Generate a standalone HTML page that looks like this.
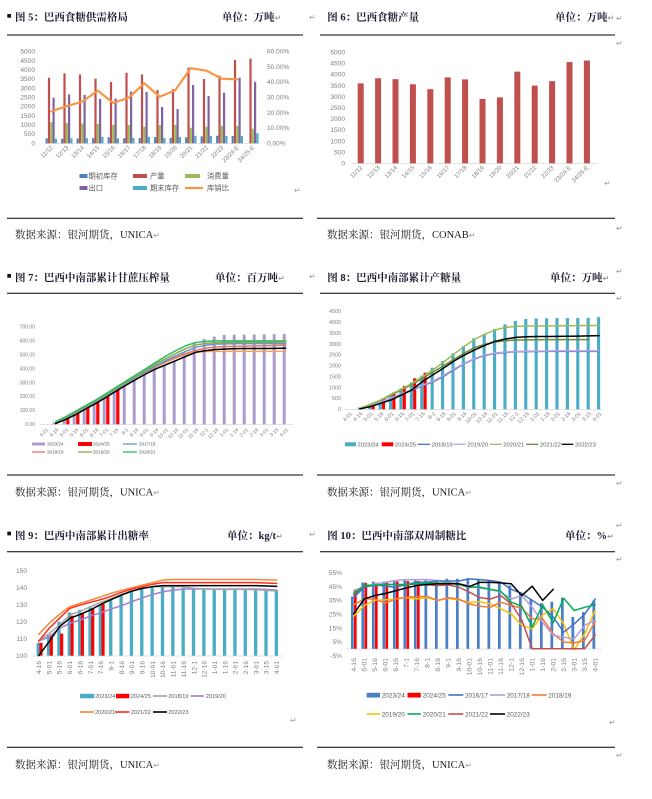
<!DOCTYPE html>
<html><head><meta charset="utf-8"><style>
html,body{margin:0;padding:0;background:#fff;}
svg{display:block;}
.t{font-family:"Liberation Serif","Noto Serif CJK SC",serif;font-weight:700;font-size:10.5px;fill:#1c1c30;}
.s{font-family:"Liberation Serif","Noto Serif CJK SC",serif;font-size:10.5px;fill:#222;}
.a{font-family:"Liberation Sans",sans-serif;fill:#7f7f7f;}
.lg{font-family:"Liberation Sans","Noto Sans CJK SC",sans-serif;fill:#595959;}
.r{font-family:"DejaVu Sans",sans-serif;font-size:8px;fill:#9a9a9a;}
.ln{fill:none;stroke-width:1.5;vector-effect:non-scaling-stroke;stroke-linejoin:round;stroke-linecap:round;}
</style></head><body>
<svg width="652" height="799" viewBox="0 0 652 799" xmlns="http://www.w3.org/2000/svg">
<rect width="652" height="799" fill="#fff"/>

<!-- ============ CHART 5 ============ -->
<rect x="7.3" y="14" width="3.7" height="3.7" fill="#111"/>
<text class="t" x="15" y="20.5">图 5：巴西食糖供需格局</text>
<text class="t" x="222" y="20.5">单位：万吨<tspan class="r">↵</tspan></text>
<text class="r" x="309" y="20">↵</text>
<line x1="7" y1="35" x2="303" y2="35" stroke="#000" stroke-width="1"/>
<g class="a" font-size="6.6" text-anchor="end">
<text x="35" y="145.3">0</text><text x="35" y="136.1">500</text><text x="35" y="127">1000</text><text x="35" y="117.8">1500</text><text x="35" y="108.7">2000</text><text x="35" y="99.5">2500</text><text x="35" y="90.3">3000</text><text x="35" y="81.2">3500</text><text x="35" y="72">4000</text><text x="35" y="62.9">4500</text><text x="35" y="53.7">5000</text>
</g>
<g class="a" font-size="6.6">
<text x="267" y="145.3">0.00%</text><text x="267" y="130">10.00%</text><text x="267" y="114.8">20.00%</text><text x="267" y="99.5">30.00%</text><text x="267" y="84.2">40.00%</text><text x="267" y="69">50.00%</text><text x="267" y="53.7">60.00%</text>
</g>
<line x1="45" y1="143.5" x2="260" y2="143.5" stroke="#d9d9d9" stroke-width="0.8"/>
<g transform="translate(51.3,143.3) scale(15.5,-0.01832)">
 <g transform="translate(-0.368,0)" fill="#4F81BD">
  <rect x="0" y="0" width="0.142" height="270"/><rect x="1" y="0" width="0.142" height="250"/><rect x="2" y="0" width="0.142" height="270"/><rect x="3" y="0" width="0.142" height="280"/><rect x="4" y="0" width="0.142" height="330"/><rect x="5" y="0" width="0.142" height="270"/><rect x="6" y="0" width="0.142" height="290"/><rect x="7" y="0" width="0.142" height="340"/><rect x="8" y="0" width="0.142" height="300"/><rect x="9" y="0" width="0.142" height="330"/><rect x="10" y="0" width="0.142" height="380"/><rect x="11" y="0" width="0.142" height="410"/><rect x="12" y="0" width="0.142" height="400"/>
 </g>
 <g transform="translate(-0.219,0)" fill="#C0504D">
  <rect x="0" y="0" width="0.142" height="3580"/><rect x="1" y="0" width="0.142" height="3820"/><rect x="2" y="0" width="0.142" height="3760"/><rect x="3" y="0" width="0.142" height="3530"/><rect x="4" y="0" width="0.142" height="3350"/><rect x="5" y="0" width="0.142" height="3850"/><rect x="6" y="0" width="0.142" height="3760"/><rect x="7" y="0" width="0.142" height="2910"/><rect x="8" y="0" width="0.142" height="2960"/><rect x="9" y="0" width="0.142" height="4130"/><rect x="10" y="0" width="0.142" height="3510"/><rect x="11" y="0" width="0.142" height="3690"/><rect x="12" y="0" width="0.142" height="4550"/><rect x="13" y="0" width="0.142" height="4620"/>
 </g>
 <g transform="translate(-0.071,0)" fill="#9BBB59">
  <rect x="0" y="0" width="0.142" height="1150"/><rect x="1" y="0" width="0.142" height="1100"/><rect x="2" y="0" width="0.142" height="1080"/><rect x="3" y="0" width="0.142" height="1060"/><rect x="4" y="0" width="0.142" height="1000"/><rect x="5" y="0" width="0.142" height="1000"/><rect x="6" y="0" width="0.142" height="900"/><rect x="7" y="0" width="0.142" height="1000"/><rect x="8" y="0" width="0.142" height="1000"/><rect x="9" y="0" width="0.142" height="850"/><rect x="10" y="0" width="0.142" height="900"/><rect x="11" y="0" width="0.142" height="950"/><rect x="12" y="0" width="0.142" height="950"/><rect x="13" y="0" width="0.142" height="800"/>
 </g>
 <g transform="translate(0.077,0)" fill="#8064A2">
  <rect x="0" y="0" width="0.142" height="2490"/><rect x="1" y="0" width="0.142" height="2670"/><rect x="2" y="0" width="0.142" height="2640"/><rect x="3" y="0" width="0.142" height="2420"/><rect x="4" y="0" width="0.142" height="2440"/><rect x="5" y="0" width="0.142" height="2820"/><rect x="6" y="0" width="0.142" height="2800"/><rect x="7" y="0" width="0.142" height="1980"/><rect x="8" y="0" width="0.142" height="1870"/><rect x="9" y="0" width="0.142" height="3180"/><rect x="10" y="0" width="0.142" height="2580"/><rect x="11" y="0" width="0.142" height="2760"/><rect x="12" y="0" width="0.142" height="3580"/><rect x="13" y="0" width="0.142" height="3360"/>
 </g>
 <g transform="translate(0.226,0)" fill="#4BACC6">
  <rect x="0" y="0" width="0.142" height="250"/><rect x="1" y="0" width="0.142" height="270"/><rect x="2" y="0" width="0.142" height="280"/><rect x="3" y="0" width="0.142" height="350"/><rect x="4" y="0" width="0.142" height="270"/><rect x="5" y="0" width="0.142" height="290"/><rect x="6" y="0" width="0.142" height="350"/><rect x="7" y="0" width="0.142" height="290"/><rect x="8" y="0" width="0.142" height="340"/><rect x="9" y="0" width="0.142" height="410"/><rect x="10" y="0" width="0.142" height="400"/><rect x="11" y="0" width="0.142" height="400"/><rect x="12" y="0" width="0.142" height="400"/><rect x="13" y="0" width="0.142" height="550"/>
 </g>
</g>
<g transform="translate(51.3,143.3) scale(15.5,-1.5267)">
 <polyline class="ln" style="stroke-width:2.2" stroke="#F79646" points="0,20.9 1,24.4 2,27.3 3,34.5 4,26.4 5,29.9 6,39.3 7,30.5 8,34.8 9,49.2 10,47.6 11,42.3 12,41.9"/>
</g>
<g class="a" font-size="6" text-anchor="end">
<text transform="translate(53.3,148) rotate(-45)">11/12</text>
<text transform="translate(68.8,148) rotate(-45)">12/13</text>
<text transform="translate(84.3,148) rotate(-45)">13/14</text>
<text transform="translate(99.8,148) rotate(-45)">14/15</text>
<text transform="translate(115.3,148) rotate(-45)">15/16</text>
<text transform="translate(130.8,148) rotate(-45)">16/17</text>
<text transform="translate(146.3,148) rotate(-45)">17/18</text>
<text transform="translate(161.8,148) rotate(-45)">18/19</text>
<text transform="translate(177.3,148) rotate(-45)">19/20</text>
<text transform="translate(192.8,148) rotate(-45)">20/21</text>
<text transform="translate(208.3,148) rotate(-45)">21/22</text>
<text transform="translate(223.8,148) rotate(-45)">22/23</text>
<text transform="translate(239.3,148) rotate(-45)">23/24-E</text>
<text transform="translate(254.8,148) rotate(-45)">24/25-E</text>
</g>
<g class="lg" font-size="7.3">
<rect x="79.5" y="174" width="8" height="4" fill="#4F81BD"/><text x="88.5" y="178.6">期初库存</text>
<rect x="133" y="174" width="14" height="4" fill="#C0504D"/><text x="150" y="178.6">产量</text>
<rect x="185" y="174" width="15" height="4" fill="#9BBB59"/><text x="207" y="178.6">消费量</text>
<rect x="79.5" y="186" width="8" height="4" fill="#8064A2"/><text x="88.5" y="190.6">出口</text>
<rect x="133" y="186" width="14" height="4" fill="#4BACC6"/><text x="150" y="190.6">期末库存</text>
<line x1="185" y1="188" x2="203" y2="188" stroke="#F79646" stroke-width="2.2"/><text x="207" y="190.6">库销比</text>
</g>
<text class="r" x="294" y="193">↵</text>
<line x1="7" y1="218.3" x2="303" y2="218.3" stroke="#000" stroke-width="1"/>
<text class="s" x="15" y="238">数据来源：银河期货，UNICA<tspan class="r">↵</tspan></text>

<!-- ============ CHART 6 ============ -->
<text class="t" x="327.3" y="20.5">图 6：巴西食糖产量</text>
<text class="t" x="555" y="20.5">单位：万吨<tspan class="r">↵</tspan></text>
<text class="r" x="616" y="21">↵</text>
<line x1="320" y1="35" x2="615" y2="35" stroke="#000" stroke-width="1"/>
<text class="r" x="616" y="46">↵</text>
<g class="a" font-size="6.6" text-anchor="end">
<text x="345" y="165.5">0</text><text x="345" y="154.4">500</text><text x="345" y="143.3">1000</text><text x="345" y="132.2">1500</text><text x="345" y="121.1">2000</text><text x="345" y="110">2500</text><text x="345" y="98.9">3000</text><text x="345" y="87.8">3500</text><text x="345" y="76.7">4000</text><text x="345" y="65.6">4500</text><text x="345" y="54.5">5000</text>
</g>
<line x1="352" y1="163.5" x2="597" y2="163.5" stroke="#d9d9d9" stroke-width="0.8"/>
<g transform="translate(360.7,163.3) scale(17.4,-0.0222)" fill="#C0504D">
 <g transform="translate(-0.172,0)">
 <rect x="0" y="0" width="0.345" height="3600"/><rect x="1" y="0" width="0.345" height="3830"/><rect x="2" y="0" width="0.345" height="3790"/><rect x="3" y="0" width="0.345" height="3560"/><rect x="4" y="0" width="0.345" height="3340"/><rect x="5" y="0" width="0.345" height="3870"/><rect x="6" y="0" width="0.345" height="3780"/><rect x="7" y="0" width="0.345" height="2900"/><rect x="8" y="0" width="0.345" height="2970"/><rect x="9" y="0" width="0.345" height="4130"/><rect x="10" y="0" width="0.345" height="3500"/><rect x="11" y="0" width="0.345" height="3700"/><rect x="12" y="0" width="0.345" height="4560"/><rect x="13" y="0" width="0.345" height="4630"/>
 </g>
</g>
<g class="a" font-size="6" text-anchor="end">
<text transform="translate(362.7,168) rotate(-45)">11/12</text>
<text transform="translate(380.1,168) rotate(-45)">12/13</text>
<text transform="translate(397.5,168) rotate(-45)">13/14</text>
<text transform="translate(414.9,168) rotate(-45)">14/15</text>
<text transform="translate(432.3,168) rotate(-45)">15/16</text>
<text transform="translate(449.7,168) rotate(-45)">16/17</text>
<text transform="translate(467.1,168) rotate(-45)">17/18</text>
<text transform="translate(484.5,168) rotate(-45)">18/19</text>
<text transform="translate(501.9,168) rotate(-45)">19/20</text>
<text transform="translate(519.3,168) rotate(-45)">20/21</text>
<text transform="translate(536.7,168) rotate(-45)">21/22</text>
<text transform="translate(554.1,168) rotate(-45)">22/23</text>
<text transform="translate(571.5,168) rotate(-45)">23/24-E</text>
<text transform="translate(588.9,168) rotate(-45)">24/25-E</text>
</g>
<text class="r" x="604" y="186">↵</text>
<line x1="317" y1="218.3" x2="615" y2="218.3" stroke="#000" stroke-width="1"/>
<text class="s" x="327" y="238">数据来源：银河期货，CONAB<tspan class="r">↵</tspan></text>
<text class="r" x="616" y="231">↵</text>

<!-- ============ CHART 7 ============ -->
<rect x="7.3" y="274" width="3.7" height="3.7" fill="#111"/>
<text class="t" x="15" y="281">图 7：巴西中南部累计甘蔗压榨量</text>
<text class="t" x="215" y="281">单位：百万吨<tspan class="r">↵</tspan></text>
<text class="r" x="309" y="279">↵</text>
<line x1="7" y1="293.3" x2="303" y2="293.3" stroke="#000" stroke-width="1"/>
<g class="a" font-size="5" text-anchor="end">
<text x="35" y="426">0.00</text><text x="35" y="412.1">100.00</text><text x="35" y="398.2">200.00</text><text x="35" y="384.3">300.00</text><text x="35" y="370.4">400.00</text><text x="35" y="356.5">500.00</text><text x="35" y="342.6">600.00</text><text x="35" y="328.7">700.00</text>
</g>
<line x1="40" y1="424.5" x2="293" y2="424.5" stroke="#d9d9d9" stroke-width="0.8"/>
<g transform="translate(45.7,424.3) scale(10,-0.139)">
 <g transform="translate(-0.3,0)" fill="#AC9BCD">
 <rect x="1" y="0" width="0.3" height="15"/><rect x="2" y="0" width="0.3" height="48"/><rect x="3" y="0" width="0.3" height="85"/><rect x="4" y="0" width="0.3" height="125"/><rect x="5" y="0" width="0.3" height="165"/><rect x="6" y="0" width="0.3" height="205"/><rect x="7" y="0" width="0.3" height="245"/><rect x="8" y="0" width="0.3" height="283"/><rect x="9" y="0" width="0.3" height="319"/><rect x="10" y="0" width="0.3" height="360"/><rect x="11" y="0" width="0.3" height="403"/><rect x="12" y="0" width="0.3" height="427"/><rect x="13" y="0" width="0.3" height="451"/><rect x="14" y="0" width="0.3" height="515"/><rect x="15" y="0" width="0.3" height="590"/><rect x="16" y="0" width="0.3" height="614"/><rect x="17" y="0" width="0.3" height="631"/><rect x="18" y="0" width="0.3" height="643"/><rect x="19" y="0" width="0.3" height="645"/><rect x="20" y="0" width="0.3" height="645"/><rect x="21" y="0" width="0.3" height="646"/><rect x="22" y="0" width="0.3" height="647"/><rect x="23" y="0" width="0.3" height="648"/><rect x="24" y="0" width="0.3" height="650"/>
 </g>
 <g transform="translate(0.05,0)" fill="#FF0000">
 <rect x="2" y="0" width="0.32" height="45"/><rect x="3" y="0" width="0.32" height="78"/><rect x="4" y="0" width="0.32" height="135"/><rect x="5" y="0" width="0.32" height="157"/><rect x="6" y="0" width="0.32" height="200"/><rect x="7" y="0" width="0.32" height="248"/>
 </g>
 <polyline class="ln" stroke="#F5A25D" points="1,10 2,45 3,82 4,121 5,161 6,202 7,247 8,292 9,336 10,376 11,412 12,446 13,476 14,502 15,518 16,524 17,525 18,525 19,525 20,525 21,525 22,525 23,525 24,525"/>
 <polyline class="ln" stroke="#E8736C" points="1,12 2,48 3,86 4,126 5,166 6,207 7,252 8,296 9,338 10,378 11,415 12,450 13,482 14,510 15,532 16,548 17,556 18,560 19,561 20,562 21,563 22,565 23,567 24,570"/>
 <polyline class="ln" stroke="#5B9BD5" points="1,12 2,47 3,85 4,124 5,164 6,205 7,250 8,295 9,338 10,380 11,420 12,458 13,493 14,525 15,553 16,570 17,577 18,579 19,580 20,580 21,580 22,580 23,580 24,581"/>
 <polyline class="ln" stroke="#8FAA48" points="1,15 2,50 3,90 4,130 5,170 6,213 7,258 8,302 9,345 10,390 11,432 12,472 13,510 14,545 15,570 16,582 17,587 18,589 19,590 20,590 21,590 22,590 23,590 24,592"/>
 <polyline class="ln" stroke="#000000" points="1,5 2,35 3,70 4,110 5,150 6,192 7,237 8,280 9,322 10,362 11,398 12,428 13,458 14,488 15,518 16,530 17,538 18,542 19,544 20,545 21,545 22,545 23,546 24,548"/>
 <polyline class="ln" stroke="#2EBD5F" points="1,20 2,55 3,95 4,135 5,175 6,220 7,265 8,310 9,355 10,400 11,445 12,490 13,530 14,565 15,588 16,597 17,600 18,600 19,600 20,600 21,600 22,600 23,600 24,600"/>
</g>
<g class="a" font-size="5" text-anchor="end">
<text transform="translate(48.7,430) rotate(-45)">4-01</text>
<text transform="translate(58.7,430) rotate(-45)">4-16</text>
<text transform="translate(68.7,430) rotate(-45)">5-01</text>
<text transform="translate(78.7,430) rotate(-45)">5-16</text>
<text transform="translate(88.7,430) rotate(-45)">6-01</text>
<text transform="translate(98.7,430) rotate(-45)">6-16</text>
<text transform="translate(108.7,430) rotate(-45)">7-01</text>
<text transform="translate(118.7,430) rotate(-45)">7-16</text>
<text transform="translate(128.7,430) rotate(-45)">8-1</text>
<text transform="translate(138.7,430) rotate(-45)">8-16</text>
<text transform="translate(148.7,430) rotate(-45)">9-01</text>
<text transform="translate(158.7,430) rotate(-45)">9-16</text>
<text transform="translate(168.7,430) rotate(-45)">10-01</text>
<text transform="translate(178.7,430) rotate(-45)">10-16</text>
<text transform="translate(188.7,430) rotate(-45)">11-01</text>
<text transform="translate(198.7,430) rotate(-45)">11-16</text>
<text transform="translate(208.7,430) rotate(-45)">12-1</text>
<text transform="translate(218.7,430) rotate(-45)">12-16</text>
<text transform="translate(228.7,430) rotate(-45)">1-01</text>
<text transform="translate(238.7,430) rotate(-45)">1-16</text>
<text transform="translate(248.7,430) rotate(-45)">2-01</text>
<text transform="translate(258.7,430) rotate(-45)">2-16</text>
<text transform="translate(268.7,430) rotate(-45)">3-01</text>
<text transform="translate(278.7,430) rotate(-45)">3-15</text>
<text transform="translate(288.7,430) rotate(-45)">4-01</text>
</g>
<g class="lg" font-size="4.6">
<rect x="32" y="442.5" width="13" height="3" fill="#AC9BCD"/><text x="47" y="445.6">2023/24</text>
<rect x="78" y="442" width="14" height="4" fill="#FF0000"/><text x="93" y="445.6">2024/25</text>
<line x1="123" y1="444" x2="137" y2="444" stroke="#5B9BD5" stroke-width="1.3"/><text x="139" y="445.6">2017/18</text>
<line x1="32" y1="452" x2="45" y2="452" stroke="#E8736C" stroke-width="1.3"/><text x="47" y="453.6">2018/19</text>
<line x1="78" y1="452" x2="92" y2="452" stroke="#8FAA48" stroke-width="1.3"/><text x="93" y="453.6">2019/20</text>
<line x1="123" y1="452" x2="137" y2="452" stroke="#2EBD5F" stroke-width="1.3"/><text x="139" y="453.6">2020/21</text>
</g>
<line x1="7" y1="475" x2="303" y2="475" stroke="#000" stroke-width="1"/>
<text class="s" x="15" y="495.5">数据来源：银河期货，UNICA<tspan class="r">↵</tspan></text>

<!-- ============ CHART 8 ============ -->
<text class="t" x="327.3" y="281">图 8：巴西中南部累计产糖量</text>
<text class="t" x="550" y="281">单位：万吨<tspan class="r">↵</tspan></text>
<text class="r" x="616" y="274">↵</text>
<line x1="320" y1="293.3" x2="615" y2="293.3" stroke="#000" stroke-width="1"/>
<text class="r" x="616" y="301">↵</text>
<g class="a" font-size="5.4" text-anchor="end">
<text x="341" y="411.1">0</text><text x="341" y="400.2">500</text><text x="341" y="389.3">1000</text><text x="341" y="378.4">1500</text><text x="341" y="367.5">2000</text><text x="341" y="356.7">2500</text><text x="341" y="345.8">3000</text><text x="341" y="334.9">3500</text><text x="341" y="324">4000</text><text x="341" y="313.1">4500</text>
</g>
<line x1="343" y1="409.5" x2="603" y2="409.5" stroke="#d9d9d9" stroke-width="0.8"/>
<g transform="translate(349.5,409.3) scale(10.4,-0.02178)">
 <g transform="translate(-0.2,0)" fill="#4BACC6">
 <rect x="1" y="0" width="0.3" height="80"/><rect x="2" y="0" width="0.3" height="230"/><rect x="3" y="0" width="0.3" height="430"/><rect x="4" y="0" width="0.3" height="690"/><rect x="5" y="0" width="0.3" height="960"/><rect x="6" y="0" width="0.3" height="1240"/><rect x="7" y="0" width="0.3" height="1545"/><rect x="8" y="0" width="0.3" height="1910"/><rect x="9" y="0" width="0.3" height="2220"/><rect x="10" y="0" width="0.3" height="2570"/><rect x="11" y="0" width="0.3" height="2900"/><rect x="12" y="0" width="0.3" height="3260"/><rect x="13" y="0" width="0.3" height="3455"/><rect x="14" y="0" width="0.3" height="3685"/><rect x="15" y="0" width="0.3" height="3900"/><rect x="16" y="0" width="0.3" height="4050"/><rect x="17" y="0" width="0.3" height="4145"/><rect x="18" y="0" width="0.3" height="4175"/><rect x="19" y="0" width="0.3" height="4180"/><rect x="20" y="0" width="0.3" height="4185"/><rect x="21" y="0" width="0.3" height="4190"/><rect x="22" y="0" width="0.3" height="4195"/><rect x="23" y="0" width="0.3" height="4200"/><rect x="24" y="0" width="0.3" height="4230"/>
 </g>
 <g transform="translate(0.12,0)" fill="#FF0000">
 <rect x="2" y="0" width="0.3" height="230"/><rect x="3" y="0" width="0.3" height="475"/><rect x="4" y="0" width="0.3" height="780"/><rect x="5" y="0" width="0.3" height="1070"/><rect x="6" y="0" width="0.3" height="1420"/><rect x="7" y="0" width="0.3" height="1680"/>
 </g>
 <polyline class="ln" stroke="#4472C4" points="1,40 2,160 3,320 4,500 5,690 6,880 7,1080 8,1250 9,1500 10,1800 11,2080 12,2310 13,2470 14,2560 15,2610 16,2640 17,2650 18,2655 19,2660 20,2660 21,2660 22,2660 23,2660 24,2660"/>
 <polyline class="ln" stroke="#B7A1DE" points="1,40 2,160 3,330 4,520 5,710 6,900 7,1100 8,1280 9,1540 10,1840 11,2100 12,2330 13,2490 14,2580 15,2630 16,2655 17,2665 18,2670 19,2675 20,2680 21,2680 22,2680 23,2680 24,2680"/>
 <polyline class="ln" stroke="#6A8A3A" points="1,40 2,210 3,410 4,650 5,890 6,1140 7,1420 8,1700 9,1990 10,2280 11,2570 12,2830 13,2980 14,3090 15,3150 16,3180 17,3190 18,3195 19,3200 20,3200 21,3200 22,3200 23,3200"/>
 <polyline class="ln" stroke="#9BBB59" points="1,50 2,230 3,430 4,690 5,930 6,1190 7,1500 8,1800 9,2155 10,2520 11,2875 12,3200 13,3450 14,3640 15,3760 16,3810 17,3825 18,3830 19,3830 20,3832 21,3835 22,3840 23,3845 24,3850"/>
 <polyline class="ln" stroke="#000000" points="1,20 2,120 3,275 4,430 5,660 6,890 7,1270 8,1575 9,1880 10,2200 11,2480 12,2720 13,2930 14,3120 15,3230 16,3300 17,3330 18,3340 19,3345 20,3350 21,3355 22,3360 23,3370 24,3380"/>
</g>
<g class="a" font-size="5.4" text-anchor="end">
<text transform="translate(352.5,414) rotate(-45)">4-01</text>
<text transform="translate(362.9,414) rotate(-45)">4-16</text>
<text transform="translate(373.3,414) rotate(-45)">5-01</text>
<text transform="translate(383.7,414) rotate(-45)">5-16</text>
<text transform="translate(394.1,414) rotate(-45)">6-01</text>
<text transform="translate(404.5,414) rotate(-45)">6-16</text>
<text transform="translate(414.9,414) rotate(-45)">7-01</text>
<text transform="translate(425.3,414) rotate(-45)">7-16</text>
<text transform="translate(435.7,414) rotate(-45)">8-1</text>
<text transform="translate(446.1,414) rotate(-45)">8-16</text>
<text transform="translate(456.5,414) rotate(-45)">9-01</text>
<text transform="translate(466.9,414) rotate(-45)">9-16</text>
<text transform="translate(477.3,414) rotate(-45)">10-01</text>
<text transform="translate(487.7,414) rotate(-45)">10-16</text>
<text transform="translate(498.1,414) rotate(-45)">11-01</text>
<text transform="translate(508.5,414) rotate(-45)">11-16</text>
<text transform="translate(518.9,414) rotate(-45)">12-1</text>
<text transform="translate(529.3,414) rotate(-45)">12-16</text>
<text transform="translate(539.7,414) rotate(-45)">1-01</text>
<text transform="translate(550.1,414) rotate(-45)">1-16</text>
<text transform="translate(560.5,414) rotate(-45)">2-01</text>
<text transform="translate(570.9,414) rotate(-45)">2-16</text>
<text transform="translate(581.3,414) rotate(-45)">3-01</text>
<text transform="translate(591.7,414) rotate(-45)">3-15</text>
<text transform="translate(602.1,414) rotate(-45)">4-01</text>
</g>
<g class="lg" font-size="5.8">
<rect x="345" y="442.3" width="11" height="4" fill="#4BACC6"/><text x="357.5" y="446.4">2023/24</text>
<rect x="381.7" y="442.3" width="11.6" height="4" fill="#FF0000"/><text x="395" y="446.4">2024/25</text>
<line x1="417.7" y1="444.3" x2="430" y2="444.3" stroke="#4472C4" stroke-width="1.3"/><text x="431.7" y="446.4">2018/19</text>
<line x1="453.3" y1="444.3" x2="465.7" y2="444.3" stroke="#B7A1DE" stroke-width="1.3"/><text x="467.3" y="446.4">2019/20</text>
<line x1="490" y1="444.3" x2="501.7" y2="444.3" stroke="#9BBB59" stroke-width="1.3"/><text x="503.3" y="446.4">2020/21</text>
<line x1="526" y1="444.3" x2="538.3" y2="444.3" stroke="#6A8A3A" stroke-width="1.3"/><text x="540" y="446.4">2021/22</text>
<line x1="561.7" y1="444.3" x2="573.3" y2="444.3" stroke="#000" stroke-width="1.3"/><text x="575" y="446.4">2022/23</text>
</g>
<line x1="317" y1="475" x2="615" y2="475" stroke="#000" stroke-width="1"/>
<text class="s" x="327" y="495.5">数据来源：银河期货，UNICA<tspan class="r">↵</tspan></text>
<text class="r" x="616" y="486">↵</text>

<!-- ============ CHART 9 ============ -->
<rect x="7.3" y="531.7" width="3.7" height="3.7" fill="#111"/>
<text class="t" x="15" y="539">图 9：巴西中南部累计出糖率</text>
<text class="t" x="227" y="539">单位：kg/t<tspan class="r">↵</tspan></text>
<text class="r" x="309" y="537">↵</text>
<line x1="7" y1="551.7" x2="303" y2="551.7" stroke="#000" stroke-width="1"/>
<g class="a" font-size="6.6" text-anchor="end">
<text x="27" y="657.9">100</text><text x="27" y="640.9">110</text><text x="27" y="623.9">120</text><text x="27" y="606.9">130</text><text x="27" y="589.9">140</text><text x="27" y="572.9">150</text>
</g>
<line x1="32" y1="656" x2="283" y2="656" stroke="#d9d9d9" stroke-width="0.8"/>
<g transform="translate(38.7,825.7) scale(10.35,-1.7)">
 <g transform="translate(-0.2,0)" fill="#4BACC6">
 <rect x="0" y="100" width="0.32" height="7.6"/><rect x="1" y="100" width="0.32" height="12"/><rect x="2" y="100" width="0.32" height="20"/><rect x="3" y="100" width="0.32" height="25.5"/><rect x="4" y="100" width="0.32" height="27"/><rect x="5" y="100" width="0.32" height="28.8"/><rect x="6" y="100" width="0.32" height="30"/><rect x="7" y="100" width="0.32" height="32.7"/><rect x="8" y="100" width="0.32" height="35.3"/><rect x="9" y="100" width="0.32" height="37.6"/><rect x="10" y="100" width="0.32" height="39.2"/><rect x="11" y="100" width="0.32" height="40"/><rect x="12" y="100" width="0.32" height="40.6"/><rect x="13" y="100" width="0.32" height="40.6"/><rect x="14" y="100" width="0.32" height="40"/><rect x="15" y="100" width="0.32" height="39.6"/><rect x="16" y="100" width="0.32" height="39"/><rect x="17" y="100" width="0.32" height="39"/><rect x="18" y="100" width="0.32" height="39"/><rect x="19" y="100" width="0.32" height="39"/><rect x="20" y="100" width="0.32" height="39"/><rect x="21" y="100" width="0.32" height="39"/><rect x="22" y="100" width="0.32" height="39"/><rect x="23" y="100" width="0.32" height="38.6"/>
 </g>
 <g transform="translate(0.07,0)" fill="#FF0000">
 <rect x="0" y="100" width="0.3" height="7.6"/><rect x="1" y="100" width="0.3" height="12.5"/><rect x="2" y="100" width="0.3" height="13"/><rect x="3" y="100" width="0.3" height="23.5"/><rect x="4" y="100" width="0.3" height="25"/><rect x="5" y="100" width="0.3" height="27.5"/><rect x="6" y="100" width="0.3" height="30.5"/>
 </g>
 <polyline class="ln" stroke="#A47DD3" points="0,108.6 1,111 2,116 3,119 4,121 5,123.3 6,125.3 7,127.5 8,129.4 9,131.8 10,134 11,136 12,137.6 13,138.6 14,139.2 15,139.2 16,139.2 17,139.2 18,139.2 19,139.2 20,139.2 21,139.2 22,139 23,138.6"/>
 <polyline class="ln" stroke="#A5A5A5" points="0,108.6 1,113 2,118 3,124 4,126 5,128.8 6,131.4 7,133.7 8,136 9,138 10,139.6 11,140.6 12,140.6 13,140.6 14,140.6 15,139.6 16,139.2 17,139 18,139 19,139 20,139 21,138.8 22,138.5 23,138"/>
 <polyline class="ln" stroke="#F7873A" points="0,112.5 1,119 2,124.3 3,128.8 4,130.8 5,132.7 6,134.7 7,136.7 8,138.4 9,140 10,141.5 11,143 12,144.5 13,144.8 14,144.8 15,144.8 16,144.8 17,144.8 18,144.8 19,144.8 20,144.8 21,144.8 22,144.6 23,144.5"/>
 <polyline class="ln" stroke="#FF2A1A" points="0,108.6 1,116 2,122 3,127.8 4,129.8 5,131.4 6,133 7,135 8,137.3 9,139.2 10,140.6 11,142 12,143 13,143 14,143 15,143 16,143 17,143 18,143 19,143 20,143 21,143 22,142.8 23,142.5"/>
 <polyline class="ln" stroke="#000000" points="0,100 1,108.2 2,117 3,122 4,124.3 5,126.9 6,130.2 7,133 8,135.7 9,138 10,139.6 11,140.6 12,141.2 13,141.2 14,141.2 15,141.2 16,141.2 17,141.2 18,141.2 19,141.2 20,141.2 21,141.2 22,141 23,140.8"/>
</g>
<g class="a" font-size="6.6" text-anchor="end" fill="#595959">
<text transform="translate(41,661) rotate(-90)">4-16</text>
<text transform="translate(51.35,661) rotate(-90)">5-01</text>
<text transform="translate(61.7,661) rotate(-90)">5-16</text>
<text transform="translate(72.05,661) rotate(-90)">6-01</text>
<text transform="translate(82.4,661) rotate(-90)">6-16</text>
<text transform="translate(92.75,661) rotate(-90)">7-01</text>
<text transform="translate(103.1,661) rotate(-90)">7-16</text>
<text transform="translate(113.45,661) rotate(-90)">8-1</text>
<text transform="translate(123.8,661) rotate(-90)">8-16</text>
<text transform="translate(134.15,661) rotate(-90)">9-01</text>
<text transform="translate(144.5,661) rotate(-90)">9-16</text>
<text transform="translate(154.85,661) rotate(-90)">10-01</text>
<text transform="translate(165.2,661) rotate(-90)">10-16</text>
<text transform="translate(175.55,661) rotate(-90)">11-01</text>
<text transform="translate(185.9,661) rotate(-90)">11-16</text>
<text transform="translate(196.25,661) rotate(-90)">12-1</text>
<text transform="translate(206.6,661) rotate(-90)">12-16</text>
<text transform="translate(216.95,661) rotate(-90)">1-01</text>
<text transform="translate(227.3,661) rotate(-90)">1-16</text>
<text transform="translate(237.65,661) rotate(-90)">2-01</text>
<text transform="translate(248,661) rotate(-90)">2-16</text>
<text transform="translate(258.35,661) rotate(-90)">3-01</text>
<text transform="translate(268.7,661) rotate(-90)">3-15</text>
<text transform="translate(279.05,661) rotate(-90)">4-01</text>
</g>
<g class="lg" font-size="5.6">
<rect x="80" y="693.8" width="14" height="4.5" fill="#4BACC6"/><text x="95" y="698.1">2023/24</text>
<rect x="116" y="693.8" width="13.3" height="4.5" fill="#FF0000"/><text x="130.7" y="698.1">2024/25</text>
<line x1="153" y1="696" x2="167" y2="696" stroke="#A5A5A5" stroke-width="1.6"/><text x="168.3" y="698.1">2018/19</text>
<line x1="190.7" y1="696" x2="204" y2="696" stroke="#A47DD3" stroke-width="1.6"/><text x="205.7" y="698.1">2019/20</text>
<line x1="80" y1="712" x2="94" y2="712" stroke="#F7873A" stroke-width="1.6"/><text x="95" y="714.1">2020/21</text>
<line x1="115" y1="712" x2="129.5" y2="712" stroke="#FF2A1A" stroke-width="1.6"/><text x="130.7" y="714.1">2021/22</text>
<line x1="153" y1="712" x2="167" y2="712" stroke="#000" stroke-width="1.6"/><text x="168.3" y="714.1">2022/23</text>
</g>
<text class="r" x="290" y="723">↵</text>
<line x1="7" y1="747.3" x2="303" y2="747.3" stroke="#000" stroke-width="1"/>
<text class="s" x="15" y="768">数据来源：银河期货，UNICA<tspan class="r">↵</tspan></text>

<!-- ============ CHART 10 ============ -->
<text class="t" x="327.3" y="539">图 10：巴西中南部双周制糖比</text>
<text class="t" x="565" y="539">单位：%<tspan class="r">↵</tspan></text>
<text class="r" x="616" y="528">↵</text>
<line x1="320" y1="551.7" x2="615" y2="551.7" stroke="#000" stroke-width="1"/>
<text class="r" x="616" y="562">↵</text>
<g class="a" font-size="6.6" text-anchor="end">
<text x="342" y="574.9">55%</text><text x="342" y="588.8">45%</text><text x="342" y="602.6">35%</text><text x="342" y="616.4">25%</text><text x="342" y="630.3">15%</text><text x="342" y="644.1">5%</text><text x="342" y="657.9">-5%</text>
</g>
<line x1="345" y1="649" x2="602" y2="649" stroke="#d9d9d9" stroke-width="0.8"/>
<g transform="translate(353.7,648.8) scale(10.5,-1.383)">
 <g transform="translate(-0.26,0)" fill="#4A7EC7">
 <rect x="0" y="0" width="0.26" height="37.8"/><rect x="1" y="0" width="0.26" height="48"/><rect x="2" y="0" width="0.26" height="48.5"/><rect x="3" y="0" width="0.26" height="48.5"/><rect x="4" y="0" width="0.26" height="48.7"/><rect x="5" y="0" width="0.26" height="49.4"/><rect x="6" y="0" width="0.26" height="49.4"/><rect x="7" y="0" width="0.26" height="49.4"/><rect x="8" y="0" width="0.26" height="49.4"/><rect x="9" y="0" width="0.26" height="50.6"/><rect x="10" y="0" width="0.26" height="50.6"/><rect x="11" y="0" width="0.26" height="51"/><rect x="12" y="0" width="0.26" height="50"/><rect x="13" y="0" width="0.26" height="49.4"/><rect x="14" y="0" width="0.26" height="48.7"/><rect x="15" y="0" width="0.26" height="45.8"/><rect x="16" y="0" width="0.26" height="41"/><rect x="17" y="0" width="0.26" height="36"/><rect x="18" y="0" width="0.26" height="33"/><rect x="19" y="0" width="0.26" height="34"/><rect x="20" y="0" width="0.26" height="37"/><rect x="21" y="0" width="0.26" height="23"/><rect x="22" y="0" width="0.26" height="26.5"/><rect x="23" y="0" width="0.26" height="35"/>
 </g>
 <g transform="translate(0.03,0)" fill="#FF0000">
 <rect x="0" y="0" width="0.25" height="43"/><rect x="1" y="0" width="0.25" height="47.7"/><rect x="2" y="0" width="0.25" height="47.7"/><rect x="3" y="0" width="0.25" height="48.2"/><rect x="4" y="0" width="0.25" height="48.7"/><rect x="5" y="0" width="0.25" height="49"/><rect x="6" y="0" width="0.25" height="49"/>
 </g>
 <polyline class="ln" stroke="#FFC000" points="0,23.6 1,31.3 2,35 3,35.4 4,36 5,37 6,36 7,37 8,35 9,36.5 10,35.4 11,33.7 12,34 13,32.5 14,29 15,25.3 16,17 17,14.5 18,24.6 19,29 20,18 21,-0.8 22,10.8 23,27.7"/>
 <polyline class="ln" stroke="#F4793B" points="0,31.8 1,36 2,36 3,33 4,36 5,37.3 6,37.8 7,37.8 8,35 9,36.9 10,36 11,32.5 12,30.8 13,30 14,33.7 15,31.3 16,29.4 17,21.7 18,21.7 19,10.8 20,4.8 21,4.3 22,6 23,19.8"/>
 <polyline class="ln" stroke="#C0504D" points="0,39 1,45 2,46 3,46.5 4,46.5 5,46.2 6,47 7,46.2 8,45.8 9,46.2 10,44.6 11,41 12,37 13,36 14,38.5 15,32.5 16,21 17,0 18,0 19,0 20,0 21,0 22,0 23,10"/>
 <polyline class="ln" stroke="#B39DDB" points="0,42 1,45 2,47 3,48 4,49.4 5,50 6,50 7,50 8,49.4 9,48.2 10,47 11,45.8 12,43.9 13,43 14,41 15,36 16,38.5 17,30 18,19 19,9.6 20,8.4 21,7.2 22,17 23,20.5"/>
 <polyline class="ln" stroke="#4472C4" points="0,37 1,44.6 2,46 3,45.5 4,44.3 5,46.7 6,48 7,48.2 8,49 9,49 10,49 11,50.6 12,50 13,49.4 14,48.2 15,43 16,40 17,35 18,30 19,23 20,12 21,18 22,25 23,36"/>
 <polyline class="ln" stroke="#00B050" points="0,40 1,45.8 2,46 3,46.5 4,46.5 5,46.5 6,47 7,47.5 8,47.5 9,47.5 10,46.5 11,44.6 12,44.6 13,43 14,41.7 15,33.7 16,30.8 17,15.7 18,31.8 19,18.8 20,36.6 21,27.7 22,30 23,31.8"/>
 <polyline class="ln" stroke="#000000" points="0,25.3 1,36 2,38.5 3,40 4,42 5,44 6,45.8 7,46.5 8,47 9,47 10,47 11,45 12,48 13,48 14,47.7 15,47 16,38.5 17,45.3 18,35 19,43"/>
</g>
<g class="a" font-size="6.8" text-anchor="end" fill="#404040">
<text transform="translate(356.2,658) rotate(-90)">4-16</text>
<text transform="translate(366.7,658) rotate(-90)">5-01</text>
<text transform="translate(377.2,658) rotate(-90)">5-16</text>
<text transform="translate(387.7,658) rotate(-90)">6-01</text>
<text transform="translate(398.2,658) rotate(-90)">6-16</text>
<text transform="translate(408.7,658) rotate(-90)">7-1</text>
<text transform="translate(419.2,658) rotate(-90)">7-16</text>
<text transform="translate(429.7,658) rotate(-90)">8-1</text>
<text transform="translate(440.2,658) rotate(-90)">8-16</text>
<text transform="translate(450.7,658) rotate(-90)">9-1</text>
<text transform="translate(461.2,658) rotate(-90)">9-16</text>
<text transform="translate(471.7,658) rotate(-90)">10-01</text>
<text transform="translate(482.2,658) rotate(-90)">10-16</text>
<text transform="translate(492.7,658) rotate(-90)">11-01</text>
<text transform="translate(503.2,658) rotate(-90)">11-16</text>
<text transform="translate(513.7,658) rotate(-90)">12-1</text>
<text transform="translate(524.2,658) rotate(-90)">12-16</text>
<text transform="translate(534.7,658) rotate(-90)">1-01</text>
<text transform="translate(545.2,658) rotate(-90)">1-16</text>
<text transform="translate(555.7,658) rotate(-90)">2-01</text>
<text transform="translate(566.2,658) rotate(-90)">2-16</text>
<text transform="translate(576.7,658) rotate(-90)">3-01</text>
<text transform="translate(587.2,658) rotate(-90)">3-15</text>
<text transform="translate(597.7,658) rotate(-90)">4-01</text>
</g>
<g class="lg" font-size="6.4">
<rect x="366.7" y="692.8" width="13.3" height="4.7" fill="#4A7EC7"/><text x="381.7" y="697.4">2023/24</text>
<rect x="407.5" y="692.8" width="13.3" height="4.7" fill="#FF0000"/><text x="422.7" y="697.4">2024/25</text>
<line x1="448.3" y1="695" x2="463.3" y2="695" stroke="#4472C4" stroke-width="1.6"/><text x="465" y="697.4">2016/17</text>
<line x1="490" y1="695" x2="505" y2="695" stroke="#B39DDB" stroke-width="1.6"/><text x="506.7" y="697.4">2017/18</text>
<line x1="531.7" y1="695" x2="546.7" y2="695" stroke="#F4793B" stroke-width="1.6"/><text x="548.3" y="697.4">2018/19</text>
<line x1="366.7" y1="714" x2="380" y2="714" stroke="#FFC000" stroke-width="1.6"/><text x="381.7" y="716.4">2019/20</text>
<line x1="407.5" y1="714" x2="420.8" y2="714" stroke="#00B050" stroke-width="1.6"/><text x="422.7" y="716.4">2020/21</text>
<line x1="448.3" y1="714" x2="463.3" y2="714" stroke="#C0504D" stroke-width="1.6"/><text x="465" y="716.4">2021/22</text>
<line x1="490" y1="714" x2="505" y2="714" stroke="#000" stroke-width="1.6"/><text x="506.7" y="716.4">2022/23</text>
</g>
<text class="r" x="609" y="725" font-size="6">↵</text>
<line x1="317" y1="747.3" x2="615" y2="747.3" stroke="#000" stroke-width="1"/>
<text class="s" x="327" y="768">数据来源：银河期货，UNICA<tspan class="r">↵</tspan></text>
<text class="r" x="616" y="758">↵</text>
</svg>
</body></html>
